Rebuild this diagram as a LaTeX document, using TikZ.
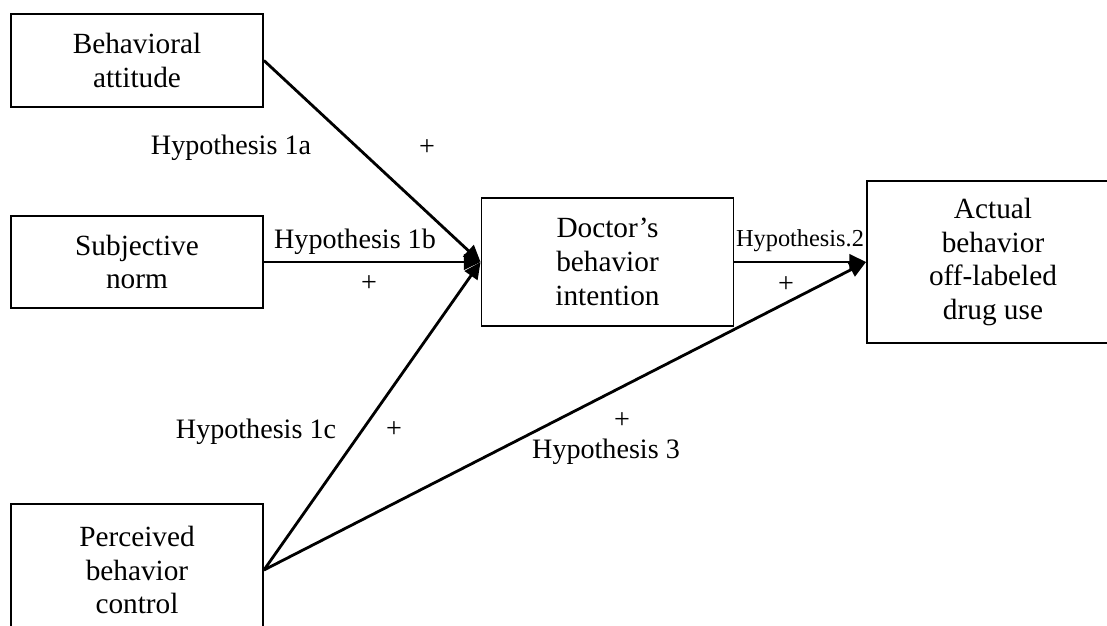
\documentclass[tikz,border=0pt]{standalone}
\usepackage{fontspec}
\setmainfont{Liberation Serif}
\usetikzlibrary{arrows.meta}

\begin{document}
\begin{tikzpicture}[x=0.015cm,y=-0.015cm,>={Triangle[length=2.5mm,width=2.3mm]},font=\fontsize{12}{14.4}\selectfont]
		\tikzstyle{factor}=[rectangle, draw=black, line width=0.8pt, align=center, minimum width=3.78cm, inner sep=2pt, font=\fontsize{12.5}{14.4}\selectfont]
		\tikzstyle{effect}=[->, line width=1.2pt]
		\tikzstyle{hyp}=[inner sep=0pt]

		\useasboundingbox (0,0) rectangle (1107,626);

		\node [factor, minimum height=1.395cm] (att) at (137,60.5) {Behavioral\\attitude};
		\node [factor, minimum height=1.38cm] (norm) at (137,262) {Subjective\\norm};
		\node [factor, minimum height=1.98cm] (pbc) at (137,570) {Perceived\\behavior\\control};
		\node [factor, minimum height=1.92cm] (int) at (607.5,262) {Doctor’s\\behavior\\intention};
		\node [factor, minimum height=2.43cm] (use) at (993,262) {Actual\\behavior\\off-labeled\\drug use};

		\draw [effect] (att.east) -- (int.west);
		\draw [effect] (norm.east) -- (int.west);
		\draw [effect] (pbc.east) -- (int.west);
		\draw [effect] (int.east) -- (use.west);
		\draw [effect] (pbc.east) -- (use.west);

		\node [hyp] (h1a) at (231,148) {Hypothesis 1a};
		\node [hyp] (p1a) at (427,148) {+};
		\node [hyp] (h1b) at (355,242) {Hypothesis 1b};
		\node [hyp] (p1b) at (369,284) {+};
		\node [hyp] (h1c) at (256,432) {Hypothesis 1c};
		\node [hyp] (p1c) at (394,430) {+};
		\node [hyp, font=\fontsize{10.4}{12}\selectfont] (h2) at (800,241) {Hypothesis.2};
		\node [hyp] (p2) at (786,285) {+};
		\node [hyp] (p3) at (622,421) {+};
		\node [hyp] (h3) at (606,452) {Hypothesis 3};
\end{tikzpicture}
\end{document}
